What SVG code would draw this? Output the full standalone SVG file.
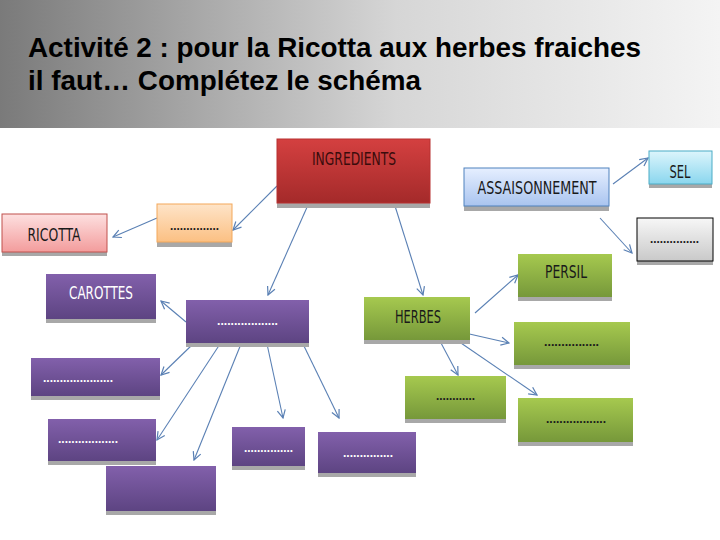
<svg xmlns="http://www.w3.org/2000/svg" width="720" height="540" viewBox="0 0 720 540">
<defs>
<linearGradient id="hdr" x1="0" y1="0" x2="1" y2="0"><stop offset="0" stop-color="#7a7a7a"/><stop offset="0.55" stop-color="#d6d6d6"/><stop offset="1" stop-color="#f4f4f4"/></linearGradient>
<linearGradient id="gRed" x1="0" y1="0" x2="0" y2="1"><stop offset="0" stop-color="#d44040"/><stop offset="1" stop-color="#a42a2a"/></linearGradient>
<linearGradient id="gOr" x1="0" y1="0" x2="0" y2="1"><stop offset="0" stop-color="#fee4c8"/><stop offset="1" stop-color="#fbc083"/></linearGradient>
<linearGradient id="gPk" x1="0" y1="0" x2="0" y2="1"><stop offset="0" stop-color="#fde0e0"/><stop offset="1" stop-color="#f39c9c"/></linearGradient>
<linearGradient id="gPu" x1="0" y1="0" x2="0" y2="1"><stop offset="0" stop-color="#8260ab"/><stop offset="1" stop-color="#5d4482"/></linearGradient>
<linearGradient id="gBl" x1="0" y1="0" x2="0" y2="1"><stop offset="0" stop-color="#e6efff"/><stop offset="1" stop-color="#a9c4ef"/></linearGradient>
<linearGradient id="gCy" x1="0" y1="0" x2="0" y2="1"><stop offset="0" stop-color="#dcf5fc"/><stop offset="1" stop-color="#8ad6ee"/></linearGradient>
<linearGradient id="gGy" x1="0" y1="0" x2="0" y2="1"><stop offset="0" stop-color="#f7f7f7"/><stop offset="1" stop-color="#c9c9c9"/></linearGradient>
<linearGradient id="gGr" x1="0" y1="0" x2="0" y2="1"><stop offset="0" stop-color="#a6c94f"/><stop offset="1" stop-color="#76983a"/></linearGradient>
<marker id="ah" markerUnits="userSpaceOnUse" markerWidth="10" markerHeight="10" refX="9" refY="5" orient="auto">
<path d="M1,1 L9,5 L1,9" fill="none" stroke="#5a80b4" stroke-width="1.2"/>
</marker>
<style>
.sh{fill:#a8a8a8}
.lbl{font-family:"Liberation Sans Narrow","DejaVu Sans Condensed","Liberation Sans",sans-serif;font-size:17px;text-anchor:middle}
.dots{font-family:"Liberation Sans",sans-serif;font-size:12px;font-weight:bold}
.dk{fill:#1a1a1a}
.wt{fill:#ffffff}
.title{font-family:"Liberation Sans",Arial,sans-serif;font-size:28px;font-weight:bold;fill:#000}
.cn line{stroke:#5a80b4;stroke-width:1.1;marker-end:url(#ah)}
</style>
</defs>
<rect x="0" y="0" width="720" height="128" fill="url(#hdr)"/>
<text class="title" x="28" y="57" textLength="613" lengthAdjust="spacingAndGlyphs">Activité 2 : pour la Ricotta aux herbes fraiches</text>
<text class="title" x="28" y="90" textLength="393" lengthAdjust="spacingAndGlyphs">il faut… Complétez le schéma</text>

<g id="connectors" class="cn">
<line x1="277" y1="186" x2="233" y2="230"/>
<line x1="157" y1="218" x2="113" y2="237"/>
<line x1="308" y1="205" x2="268" y2="295"/>
<line x1="186" y1="322" x2="161" y2="301"/>
<line x1="395" y1="206" x2="423" y2="295"/>
<line x1="613" y1="184" x2="648" y2="158"/>
<line x1="600" y1="218" x2="632" y2="253"/>
<line x1="475" y1="313" x2="518" y2="275"/>
<line x1="465" y1="333" x2="509" y2="343"/>
<line x1="441" y1="343" x2="458" y2="375"/>
<line x1="458" y1="341" x2="537" y2="395"/>
<line x1="193" y1="344" x2="161" y2="375"/>
<line x1="220" y1="344" x2="157" y2="440"/>
<line x1="241" y1="344" x2="194" y2="460"/>
<line x1="267" y1="344" x2="283" y2="418"/>
<line x1="303" y1="344" x2="339" y2="418"/>
</g>

<g id="ingredients"><rect class="sh" x="277" y="143" width="153" height="65"/><rect x="277" y="139" width="153" height="64" fill="url(#gRed)" stroke="#b83030" stroke-width="1"/><text class="lbl" x="354" y="165" fill="#3a0c0c" textLength="84" lengthAdjust="spacingAndGlyphs">INGREDIENTS</text></g>

<g id="n-orange"><rect class="sh" x="157" y="208" width="75" height="39"/><rect x="157" y="204" width="75" height="38" fill="url(#gOr)" stroke="#f3a85a" stroke-width="1"/><text class="dots dk" x="170" y="230" textLength="49" lengthAdjust="spacingAndGlyphs">...............</text></g>

<g id="ricotta"><rect class="sh" x="2" y="218" width="105" height="38"/><rect x="2" y="214" width="105" height="38" fill="url(#gPk)" stroke="#c0504d" stroke-width="1"/><text class="lbl" x="54" y="241" fill="#1a1a1a" textLength="53" lengthAdjust="spacingAndGlyphs">RICOTTA</text></g>

<g id="carottes"><rect class="sh" x="46" y="278" width="110" height="45"/><rect x="46" y="274" width="110" height="45" fill="url(#gPu)"/><text class="lbl" x="101" y="299" fill="#fff" textLength="64" lengthAdjust="spacingAndGlyphs">CAROTTES</text></g>

<g id="n-purple-main"><rect class="sh" x="186" y="304" width="123" height="43"/><rect x="186" y="300" width="123" height="43" fill="url(#gPu)"/><text class="dots wt" x="217" y="325" textLength="61" lengthAdjust="spacingAndGlyphs">..................</text></g>

<g id="assaisonnement"><rect class="sh" x="464" y="172" width="145" height="39"/><rect x="464" y="168" width="145" height="38" fill="url(#gBl)" stroke="#4f81bd" stroke-width="1"/><text class="lbl" x="537" y="194" fill="#1a1a1a" textLength="119" lengthAdjust="spacingAndGlyphs">ASSAISONNEMENT</text></g>

<g id="sel"><rect class="sh" x="649" y="155" width="63" height="33"/><rect x="649" y="151" width="63" height="33" fill="url(#gCy)" stroke="#4bacc6" stroke-width="1"/><text class="lbl" x="680" y="178" fill="#1a1a1a" textLength="21" lengthAdjust="spacingAndGlyphs">SEL</text></g>

<g id="n-gray"><rect class="sh" x="637" y="222" width="76" height="43"/><rect x="637" y="218" width="76" height="43" fill="url(#gGy)" stroke="#000" stroke-width="1"/><text class="dots dk" x="650" y="243" textLength="49" lengthAdjust="spacingAndGlyphs">...............</text></g>

<g id="persil"><rect class="sh" x="518" y="258" width="94" height="43"/><rect x="518" y="254" width="94" height="43" fill="url(#gGr)"/><text class="lbl" x="566" y="278" fill="#1a1a1a" textLength="42" lengthAdjust="spacingAndGlyphs">PERSIL</text></g>

<g id="herbes"><rect class="sh" x="364" y="301" width="106" height="43"/><rect x="364" y="297" width="106" height="43" fill="url(#gGr)"/><text class="lbl" x="418" y="323" fill="#1a1a1a" textLength="46" lengthAdjust="spacingAndGlyphs">HERBES</text></g>

<g id="n-green-1"><rect class="sh" x="514" y="326" width="116" height="43"/><rect x="514" y="322" width="116" height="43" fill="url(#gGr)"/><text class="dots dk" x="544" y="346" textLength="55" lengthAdjust="spacingAndGlyphs">................</text></g>

<g id="n-green-2"><rect class="sh" x="405" y="380" width="101" height="43"/><rect x="405" y="376" width="101" height="43" fill="url(#gGr)"/><text class="dots dk" x="436" y="400" textLength="39" lengthAdjust="spacingAndGlyphs">............</text></g>

<g id="n-green-3"><rect class="sh" x="518" y="402" width="115" height="44"/><rect x="518" y="398" width="115" height="44" fill="url(#gGr)"/><text class="dots dk" x="546" y="423" textLength="60" lengthAdjust="spacingAndGlyphs">..................</text></g>

<g id="n-purple-1"><rect class="sh" x="31" y="362" width="129" height="38"/><rect x="31" y="358" width="129" height="38" fill="url(#gPu)"/><text class="dots wt" x="43" y="382" textLength="70" lengthAdjust="spacingAndGlyphs">.....................</text></g>

<g id="n-purple-2"><rect class="sh" x="48" y="423" width="108" height="42"/><rect x="48" y="419" width="108" height="42" fill="url(#gPu)"/><text class="dots wt" x="58" y="443" textLength="60" lengthAdjust="spacingAndGlyphs">..................</text></g>

<g id="n-purple-3"><rect class="sh" x="106" y="470" width="110" height="45"/><rect x="106" y="466" width="110" height="45" fill="url(#gPu)"/></g>

<g id="n-purple-4"><rect class="sh" x="232" y="431" width="73" height="39"/><rect x="232" y="427" width="73" height="39" fill="url(#gPu)"/><text class="dots wt" x="244" y="452" textLength="49" lengthAdjust="spacingAndGlyphs">...............</text></g>

<g id="n-purple-5"><rect class="sh" x="318" y="436" width="98" height="41"/><rect x="318" y="432" width="98" height="41" fill="url(#gPu)"/><text class="dots wt" x="343" y="457" textLength="50" lengthAdjust="spacingAndGlyphs">...............</text></g>
</svg>
